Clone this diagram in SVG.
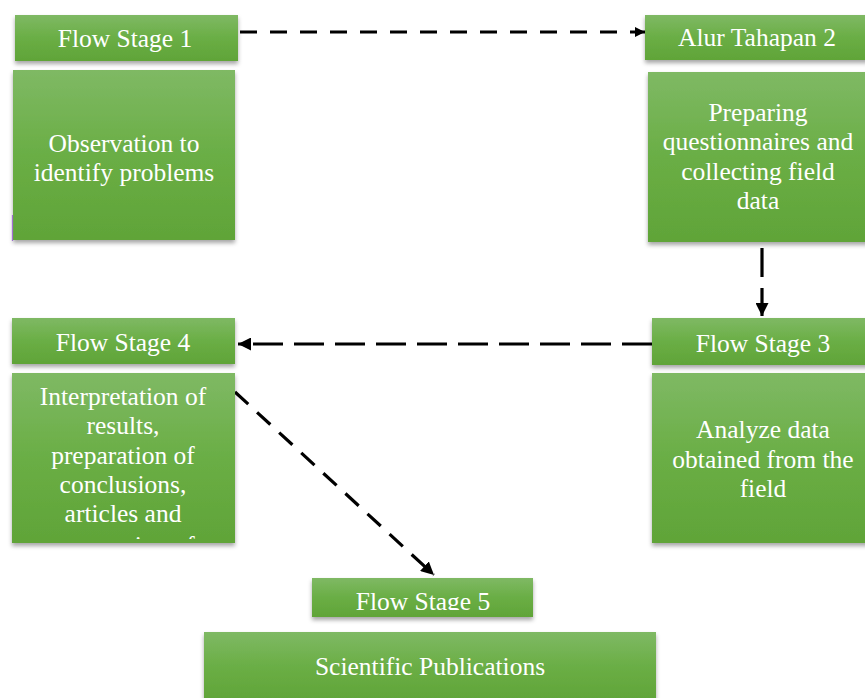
<svg xmlns="http://www.w3.org/2000/svg" width="865" height="698" viewBox="0 0 865 698">
<defs>
<linearGradient id="g" x1="0" y1="0" x2="0" y2="1">
<stop offset="0" stop-color="#7fb964"/>
<stop offset="0.5" stop-color="#6aae45"/>
<stop offset="1" stop-color="#60a438"/>
</linearGradient>
<filter id="sh" x="-10%" y="-10%" width="120%" height="130%">
<feDropShadow dx="0" dy="3" stdDeviation="2" flood-color="#000" flood-opacity="0.35"/>
</filter>
<marker id="ah" viewBox="0 0 10 10" refX="10" refY="5" markerWidth="10" markerHeight="10" markerUnits="userSpaceOnUse" orient="auto">
<path d="M0,0 L10,5 L0,10 Z" fill="#000"/>
</marker>
<marker id="ahb" viewBox="0 0 10 10" refX="10" refY="5" markerWidth="13" markerHeight="13" markerUnits="userSpaceOnUse" orient="auto">
<path d="M0,0 L10,5 L0,10 Z" fill="#000"/>
</marker>
<clipPath id="c4"><rect x="12" y="373" width="223" height="166"/></clipPath>
<clipPath id="c5"><rect x="312" y="578" width="221" height="32"/></clipPath>
</defs>
<style>
.box{fill:url(#g);filter:url(#sh);}
.t{font-family:"Liberation Serif","Times New Roman",serif;font-size:25.5px;fill:#fff;text-anchor:middle;}
.c{fill:none;stroke:#000;stroke-width:3.2;}
</style>
<rect width="865" height="698" fill="#fff"/>
<g id="connectors">
<path class="c" d="M240,32 L645,32" stroke-dasharray="17 13" marker-end="url(#ah)"/>
<path class="c" d="M762,248 L762,316" stroke-dasharray="29 11" marker-end="url(#ahb)"/>
<path class="c" d="M652,344 L238,344" stroke-dasharray="30 11" marker-end="url(#ahb)"/>
<path class="c" d="M235,392 L434,575" stroke-dasharray="18 12" marker-end="url(#ahb)"/>
</g>
<g id="stage1">
<rect class="box" x="15" y="15" width="223" height="46"/>
<text class="t" x="125" y="47">Flow Stage 1</text>
<rect class="box" x="13" y="70" width="222" height="170"/>
<line x1="12.5" y1="215" x2="12.5" y2="241" stroke="#a070d0" stroke-width="1.2"/>
<text class="t" x="124" y="152">Observation to</text>
<text class="t" x="124" y="181">identify problems</text>
</g>
<g id="stage2">
<rect class="box" x="645" y="15" width="225" height="45"/>
<text class="t" x="757" y="46">Alur Tahapan 2</text>
<rect class="box" x="648" y="72" width="222" height="170"/>
<text class="t" x="758" y="121">Preparing</text>
<text class="t" x="758" y="150">questionnaires and</text>
<text class="t" x="758" y="180">collecting field</text>
<text class="t" x="758" y="209">data</text>
</g>
<g id="stage3">
<rect class="box" x="652" y="318" width="218" height="47"/>
<text class="t" x="763" y="352">Flow Stage 3</text>
<rect class="box" x="652" y="373" width="218" height="170"/>
<text class="t" x="763" y="438">Analyze data</text>
<text class="t" x="763" y="468">obtained from the</text>
<text class="t" x="763" y="497">field</text>
</g>
<g id="stage4">
<rect class="box" x="12" y="318" width="223" height="46"/>
<text class="t" x="123" y="351">Flow Stage 4</text>
<rect class="box" x="12" y="373" width="223" height="170"/>
<g clip-path="url(#c4)">
<text class="t" x="123" y="405">Interpretation of</text>
<text class="t" x="123" y="434">results,</text>
<text class="t" x="123" y="464">preparation of</text>
<text class="t" x="123" y="493">conclusions,</text>
<text class="t" x="123" y="522">articles and</text>
<text class="t" x="123" y="554">preparation of</text>
</g>
</g>
<g id="stage5">
<rect class="box" x="312" y="578" width="221" height="39"/>
<text class="t" x="423" y="610" clip-path="url(#c5)">Flow Stage 5</text>
<rect class="box" x="204" y="632" width="452" height="70"/>
<text class="t" x="430" y="675">Scientific Publications</text>
</g>
</svg>
